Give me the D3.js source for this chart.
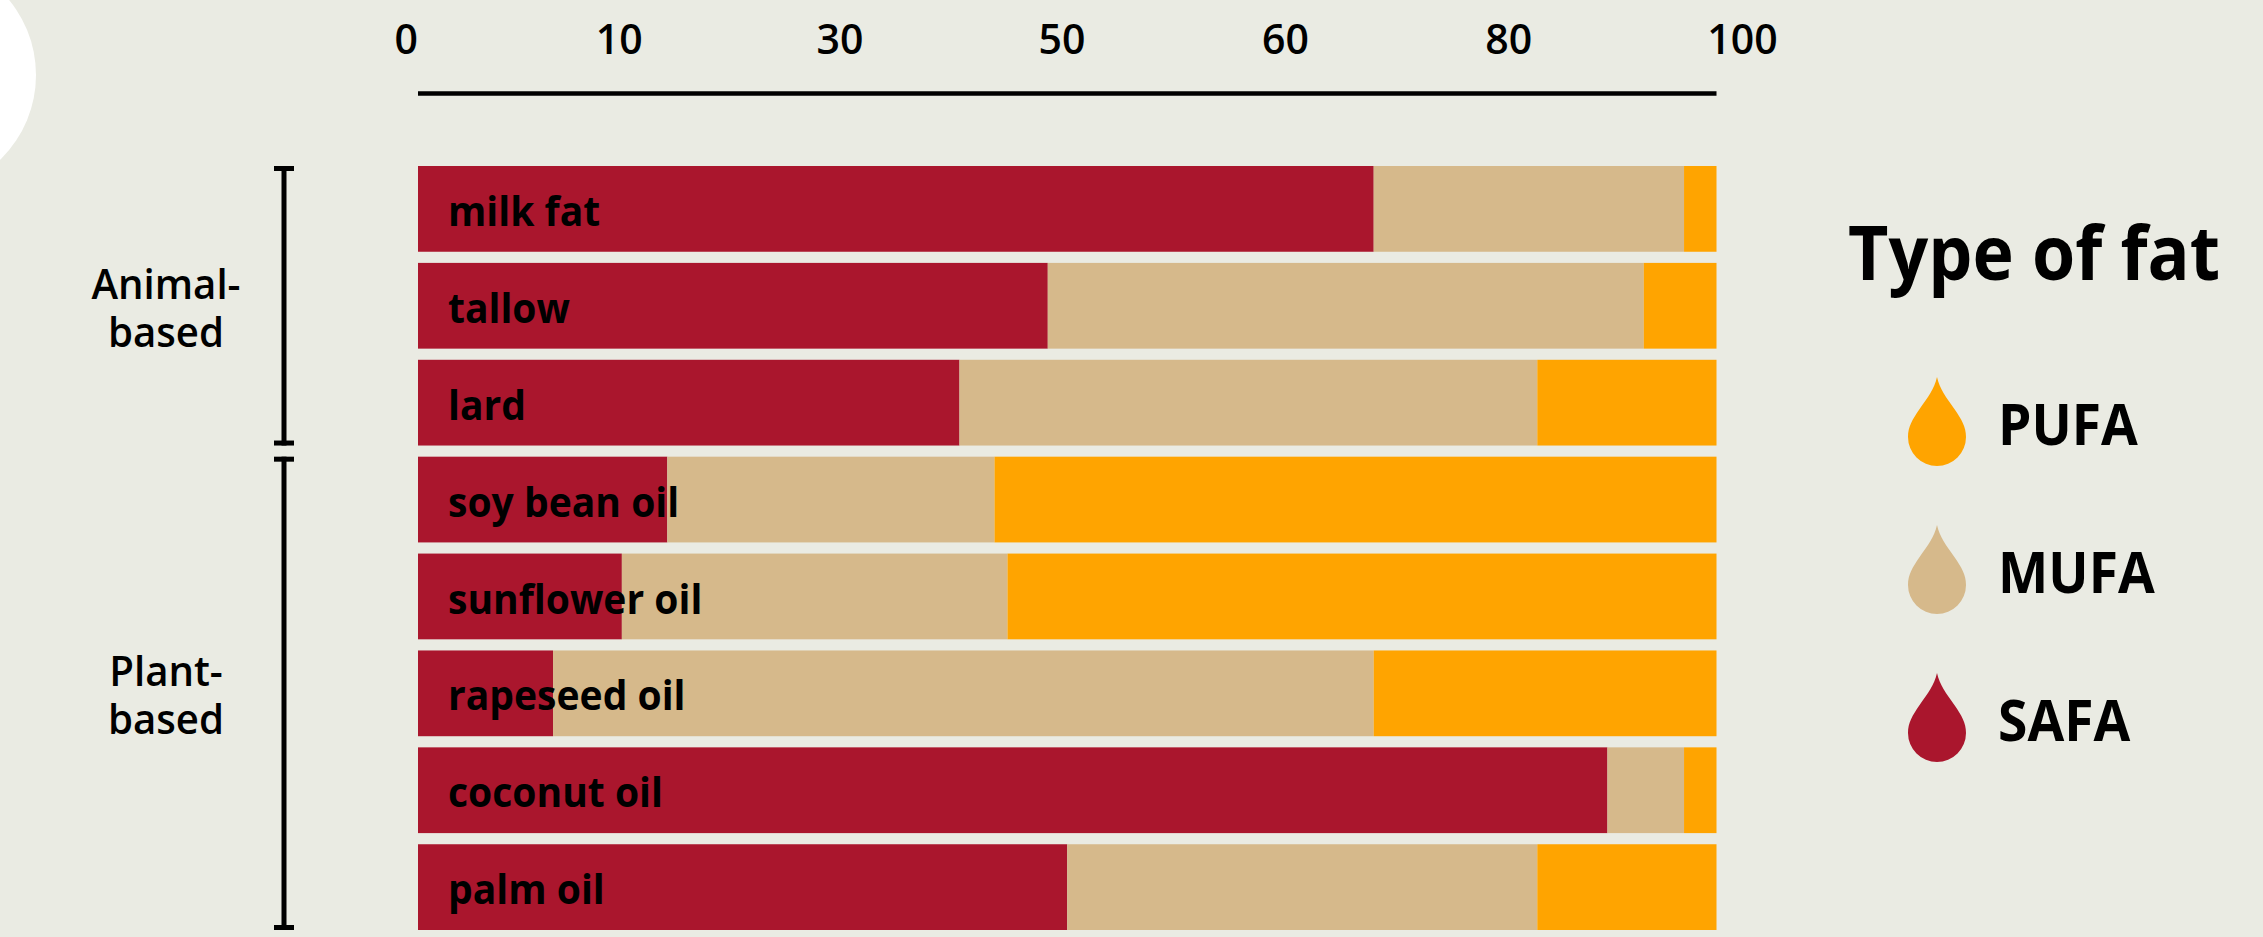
<!DOCTYPE html>
<html lang="en">
<head>
<meta charset="UTF-8">
<title>Type of fat</title>
<style>

body {
	margin: 0;
	background: #eaebe3;
}

svg {
	display: block;
}

text {
	font-family: "Open Sans", sans-serif;
	fill: #000;
}

</style>
</head>
<body>

<div id="plot"></div>

<script src="https://cdn.jsdelivr.net/npm/d3@7/dist/d3.min.js"></script>
<script>

// values, percent of total fat
const fats = ["milk fat", "tallow", "lard", "soy bean oil", "sunflower oil", "rapeseed oil", "coconut oil", "palm oil"];
const safa = [73.6, 48.5, 41.7, 19.2, 15.7, 10.4, 91.6, 50.0];
const mufa = [23.9, 45.9, 44.5, 25.2, 29.7, 63.2, 5.9, 36.2];
const pufa = [2.5, 5.6, 13.8, 55.6, 54.6, 26.4, 2.5, 13.8];

const fatTypes = ["SAFA", "MUFA", "PUFA"];
const legendOrder = ["PUFA", "MUFA", "SAFA"];
const typeColors = ["#aa162d", "#d6b98b", "#ffa400"];

// the printed labels do not sit on their true values, so keep where they sit on the axis
const tickLabels = ["0", "10", "30", "50", "60", "80", "100"];
const tickAt = [-0.9, 15.5, 32.5, 49.6, 66.8, 84, 102];

const groups = [
	{ lines: ["Animal-", "based"], first: "milk fat", last: "lard" },
	{ lines: ["Plant-", "based"], first: "soy bean oil", last: "palm oil" }
];

const width = 2263;
const height = 937;

const svg = d3.select("#plot").append("svg")
	.attr("width", width)
	.attr("height", height);

const x = d3.scaleLinear().domain([0, 100]).range([418, 1716.5]);
const y = d3.scaleBand().domain(fats).range([166, 930]).paddingInner(0.115).paddingOuter(0);
const color = d3.scaleOrdinal().domain(fatTypes).range(typeColors);

// white disc cut off by the left edge
svg.append("circle")
	.attr("cx", -82)
	.attr("cy", 75)
	.attr("r", 118)
	.attr("fill", "#fff");

// stacked bars
const rows = fats.map((f, i) => ({ fat: f, SAFA: safa[i], MUFA: mufa[i], PUFA: pufa[i] }));
const stacked = d3.stack().keys(fatTypes)(rows);

svg.append("g").selectAll("g")
	.data(stacked)
	.join("g")
	.attr("fill", d => color(d.key))
	.selectAll("rect")
	.data(d => d)
	.join("rect")
	.attr("x", d => x(d[0]))
	.attr("y", d => y(d.data.fat))
	.attr("width", d => x(d[1]) - x(d[0]))
	.attr("height", y.bandwidth());

// bar names
svg.append("g").selectAll("text")
	.data(fats)
	.join("text")
	.attr("transform", d => `translate(448,${y(d) + 60}) scale(0.93,1)`)
	.style("font-size", "42px")
	.style("font-weight", 700)
	.text(d => d);

// top axis
const axis = svg.append("g")
	.attr("transform", "translate(0,93.5)")
	.call(d3.axisTop(x)
		.offset(0)
		.tickValues(tickAt)
		.tickFormat((d, i) => tickLabels[i])
		.tickSize(0)
		.tickPadding(40)
		.tickSizeOuter(0));

axis.select(".domain")
	.attr("stroke", "#000")
	.attr("stroke-width", 4.5);

axis.selectAll("text")
	.style("font-family", '"Open Sans", sans-serif')
	.style("font-size", "41px")
	.style("font-weight", 600);

// group brackets
const bracket = svg.append("g").selectAll("g")
	.data(groups)
	.join("g");

bracket.append("rect")
	.attr("x", 281.5)
	.attr("width", 5)
	.attr("y", d => y(d.first))
	.attr("height", d => y(d.last) + y.bandwidth() - y(d.first));

bracket.append("rect")
	.attr("x", 274)
	.attr("width", 20)
	.attr("y", d => y(d.first))
	.attr("height", 5);

bracket.append("rect")
	.attr("x", 274)
	.attr("width", 20)
	.attr("y", d => y(d.last) + y.bandwidth() - 5)
	.attr("height", 5);

// two lines in one text element, set tighter than the font's own line box
const groupText = bracket.append("text")
	.attr("transform", d => {
		const mid = (y(d.first) + y(d.last) + y.bandwidth()) / 2;
		return `translate(166,${mid - 7}) scale(0.98,1)`;
	})
	.attr("text-anchor", "middle")
	.style("font-size", "41px")
	.style("font-weight", 600);

groupText.selectAll("tspan")
	.data(d => d.lines)
	.join("tspan")
	.attr("x", 0)
	.attr("dy", (t, i) => i ? 48 : 0)
	.text(t => t);

// legend
svg.append("text")
	.attr("transform", "translate(1848,280) scale(0.92,1)")
	.style("font-size", "76px")
	.style("font-weight", 700)
	.text("Type of fat");

const legendY = d3.scalePoint().domain(legendOrder).range([377, 673]);

function dropPath(w, h) {
	// tip at the top, straight-ish shoulders, round belly at the bottom
	const p = d3.path();
	const r = w / 2;
	p.moveTo(0, 0);
	p.bezierCurveTo(r * 0.1, h * 0.14, r * 0.3, h * 0.22, r * 0.6, h * 0.36);
	p.bezierCurveTo(r * 0.85, h * 0.48, r, h * 0.56, r, h - r);
	p.arc(0, h - r, r, 0, Math.PI);
	p.bezierCurveTo(-r, h * 0.56, -r * 0.85, h * 0.48, -r * 0.6, h * 0.36);
	p.bezierCurveTo(-r * 0.3, h * 0.22, -r * 0.1, h * 0.14, 0, 0);
	p.closePath();
	return p.toString();
}

const legendItem = svg.append("g").selectAll("g")
	.data(legendOrder)
	.join("g")
	.attr("transform", d => `translate(1937,${legendY(d)})`);

legendItem.append("path")
	.attr("d", dropPath(58, 89))
	.attr("fill", d => color(d));

legendItem.append("text")
	.attr("transform", "translate(61,68) scale(0.92,1)")
	.style("font-size", "58px")
	.style("font-weight", 700)
	.text(d => d);

</script>
</body>
</html>
